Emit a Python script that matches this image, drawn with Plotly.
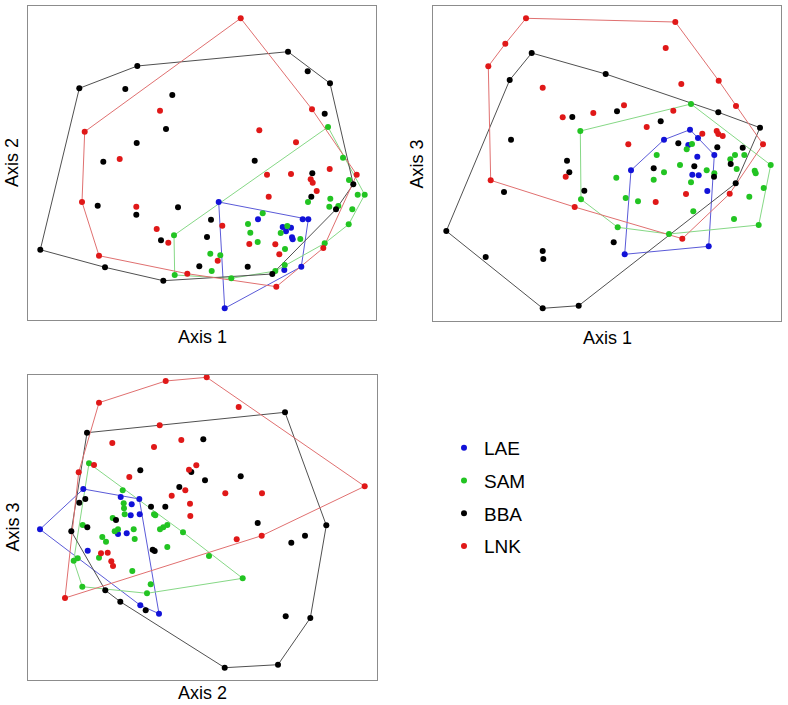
import plotly.graph_objects as go

W, H = 788, 705

groups = ["LAE", "SAM", "BBA", "LNK"]
marker_colors = {"LAE": "#1212d8", "SAM": "#22c422", "BBA": "#000000", "LNK": "#e01818"}
hull_colors = {"LAE": "#5a5ad8", "SAM": "#86d886", "BBA": "#505050", "LNK": "#e07070"}

# ---- Panel 1: Axis 1 (x) vs Axis 2 (y) ----
ax12_LAE = [(218.7, 202), (258, 219.3), (302.7, 219.3), (308.3, 219.3), (282.7, 227), (291, 227.7),
            (286, 231.3), (292, 237.3), (292.7, 239.3), (301.3, 266.7), (284.3, 270), (224.7, 308.3)]
ax12_SAM = [(328, 127), (343, 157.7), (174, 235.3), (174.7, 275), (349, 180), (357.7, 194.7),
            (364.7, 194.7), (308, 202), (330.3, 198.7), (329.3, 206.7), (338.3, 206), (352.3, 209.3),
            (262.7, 213.3), (248, 224), (348.7, 224.3), (287.3, 226), (280.7, 233), (250.3, 232.7),
            (300.3, 239), (257.7, 242), (324.7, 243.3), (285, 249), (210.3, 253.7), (220.3, 255.3),
            (211.7, 271), (284.7, 265), (275.3, 271), (231.3, 278.3)]
ax12_BBA = [(79.3, 88.3), (137.3, 66), (125.3, 89), (172.3, 95), (166, 129), (136.7, 143),
            (103.3, 161.7), (288, 51.7), (307.7, 71.3), (330, 83.3), (324.7, 113.7), (254.7, 160.7),
            (97.7, 205.7), (136.3, 214.7), (178, 207.3), (161, 240.3), (207, 237), (40.3, 249.7),
            (105, 267.3), (199.3, 266.3), (163.3, 280.7), (312.3, 173.3), (353.3, 184.3),
            (311.3, 196.7), (336, 209.3), (211, 219.7), (247.7, 266.7), (272.3, 274)]
ax12_LNK = [(160, 110.7), (84.7, 131.7), (119.7, 159), (240.7, 18.3), (312, 109.3), (259.3, 130.3),
            (296, 142.3), (82, 202), (136.3, 206.7), (156.7, 229), (168.3, 242.7), (99, 255.7),
            (187.3, 273.7), (267, 174.7), (291, 174), (329.7, 169), (356.7, 174.7), (310.7, 179.3),
            (312.7, 182.7), (316.7, 191), (268.7, 196.7), (222.3, 225.7), (249.3, 244), (275.3, 244.3),
            (323.3, 248), (279.3, 254.3), (217.7, 260.7), (276.3, 286.7)]

# ---- Panel 2: Axis 1 (x) vs Axis 3 (y) ----
ax13_LAE = [(690, 129.7), (664, 139.7), (688.3, 145), (698, 138), (697.3, 156.7), (714.3, 155),
            (631, 170.3), (692.3, 174.7), (698.7, 175.3), (707.3, 191), (708.7, 246.3), (624.7, 254.3)]
ax13_SAM = [(580.3, 131), (691, 104), (692, 144), (686.7, 149.3), (656.7, 155), (735, 155),
            (744.3, 155), (730.3, 159.3), (770.7, 165), (680, 165), (581, 199.3), (616.3, 177.7),
            (664, 172.3), (653.7, 179.7), (706.7, 170.3), (714.3, 173.3), (736.7, 169), (754.7, 170.7),
            (755.7, 173.3), (691, 182.3), (763.7, 188), (625.7, 198), (638, 201.3), (749.3, 196.7),
            (693.3, 211.3), (734, 219), (758.7, 225), (617.7, 227.3), (669, 234)]
ax13_BBA = [(531.7, 53), (509.7, 80), (605.7, 74), (572.3, 117), (511, 139.7), (567, 160.7),
            (617, 111.3), (718.3, 112.3), (660.7, 121.3), (760, 127.7), (678.3, 143.3), (717.3, 147.3),
            (742.7, 147.7), (730.7, 164), (569.3, 172.3), (504, 192), (584.3, 190.7), (446.3, 231),
            (485.7, 257), (542.7, 251), (543.3, 259), (542.7, 308.3), (578.7, 305.7), (653.7, 168.3),
            (694.3, 166.3), (714, 176.7), (735.7, 183.3), (613.7, 242.3)]
ax13_LNK = [(526, 18.3), (505.3, 43.7), (488.3, 66.3), (542.7, 87.7), (562.7, 117.3), (593.3, 113),
            (675.3, 22), (665.7, 48), (681.3, 84), (718.7, 80.7), (736, 106), (624, 105.3),
            (673.3, 110.7), (646.7, 127), (702.3, 133.7), (716.7, 131), (718.3, 134), (722.7, 136),
            (763, 144.3), (628.3, 144.3), (565.7, 176.7), (490.7, 180.3), (574.7, 207), (729.7, 193.7),
            (686, 194), (655.7, 202), (682.3, 238.7)]

# ---- Panel 3: Axis 2 (x) vs Axis 3 (y) ----
ax23_LAE = [(83.3, 489), (120.7, 497), (139.3, 499), (131.7, 504.3), (130.7, 515.3), (139.7, 514.3),
            (40, 529.3), (118, 534), (126.7, 533.3), (87.7, 550.7), (140.3, 605.3), (159, 613.7)]
ax23_SAM = [(89, 463.3), (122.7, 490.3), (123.7, 503.3), (124, 508.3), (124.7, 514.3), (154, 514.3),
            (155.3, 515.3), (112.7, 518), (82.7, 525), (167.3, 525), (163.3, 527.3), (160, 529.3),
            (183, 532.3), (118, 529.3), (114.7, 531.3), (133.7, 529.3), (102.3, 537), (106, 541.7),
            (134.7, 539), (167.3, 547), (99, 557.7), (77.7, 558.3), (73.7, 560.7), (132.3, 571),
            (150.7, 584.3), (82.3, 586.7), (147, 593.3), (209, 556), (242.7, 578.3)]
ax23_BBA = [(87, 432.7), (140.3, 470.3), (191.3, 472), (203.3, 439.3), (205, 480.3), (179.3, 487),
            (85.3, 499), (79.3, 502.7), (151, 506.7), (165.3, 506.7), (116, 520), (87.3, 527.3),
            (71.3, 531.3), (152.7, 549.7), (154.7, 551), (105.3, 590.3), (120.3, 601.7), (145.7, 610.3),
            (285, 412.3), (240.7, 476.3), (257.7, 523), (326.3, 525.3), (291.3, 542.7), (305, 535.7),
            (285.7, 616.3), (310.3, 618), (224.7, 667.7), (278, 664.7)]
ax23_LNK = [(165.7, 381), (99, 402.7), (159.7, 425.3), (112.3, 443), (154, 447), (181.3, 440),
            (94, 465), (78.7, 472.3), (129.3, 477), (189, 469.7), (196.3, 465.3), (185.3, 490.3),
            (171.7, 495.7), (190, 503.7), (190.3, 516), (101, 553.3), (107.7, 552.7), (111.3, 561.3),
            (113, 566), (65, 598), (206.7, 377.3), (238.7, 407), (225.3, 493.3), (262, 493.3),
            (364.7, 486.3), (236.7, 539.3), (261.7, 535.7)]

panels = [
    {"data": {"LAE": ax12_LAE, "SAM": ax12_SAM, "BBA": ax12_BBA, "LNK": ax12_LNK},
     "frame": (28, 376, 6, 320), "xt": "Axis 1", "yt": "Axis 2", "xgap": 17},
    {"data": {"LAE": ax13_LAE, "SAM": ax13_SAM, "BBA": ax13_BBA, "LNK": ax13_LNK},
     "frame": (433, 781, 6, 321), "xt": "Axis 1", "yt": "Axis 3", "xgap": 17},
    {"data": {"LAE": ax23_LAE, "SAM": ax23_SAM, "BBA": ax23_BBA, "LNK": ax23_LNK},
     "frame": (28, 377, 375, 680), "xt": "Axis 2", "yt": "Axis 3", "xgap": 13},
]


def convex_hull(pts):
    pts = sorted(set(pts))
    if len(pts) <= 2:
        return pts

    def cross(o, a, b):
        return (a[0] - o[0]) * (b[1] - o[1]) - (a[1] - o[1]) * (b[0] - o[0])

    lower, upper = [], []
    for p in pts:
        while len(lower) >= 2 and cross(lower[-2], lower[-1], p) <= 0:
            lower.pop()
        lower.append(p)
    for p in reversed(pts):
        while len(upper) >= 2 and cross(upper[-2], upper[-1], p) <= 0:
            upper.pop()
        upper.append(p)
    return lower[:-1] + upper[:-1]


fig = go.Figure()
FONT = "Liberation Sans, Arial, sans-serif"
annotations = []

for i, pan in enumerate(panels, start=1):
    xa = "x" if i == 1 else f"x{i}"
    ya = "y" if i == 1 else f"y{i}"
    # hull outlines
    for g in groups:
        hull = convex_hull(pan["data"][g])
        hull = hull + [hull[0]]
        fig.add_trace(go.Scatter(
            x=[p[0] for p in hull], y=[p[1] for p in hull], mode="lines",
            line=dict(color=hull_colors[g], width=1), hoverinfo="skip",
            showlegend=False, xaxis=xa, yaxis=ya))
    # points
    for g in groups:
        pts = pan["data"][g]
        fig.add_trace(go.Scatter(
            x=[p[0] for p in pts], y=[p[1] for p in pts], mode="markers",
            marker=dict(color=marker_colors[g], size=6), name=g, legendgroup=g,
            showlegend=(i == 1), cliponaxis=False, xaxis=xa, yaxis=ya))

    x0, x1, y0, y1 = pan["frame"]
    axis_common = dict(showgrid=False, zeroline=False, showticklabels=False, ticks="",
                       showline=True, mirror=True, linecolor="#8c8c8c", linewidth=1)
    fig.layout[f"xaxis{'' if i == 1 else i}"] = dict(
        domain=[x0 / W, x1 / W], range=[x0, x1], anchor=ya, **axis_common)
    fig.layout[f"yaxis{'' if i == 1 else i}"] = dict(
        domain=[1 - y1 / H, 1 - y0 / H], range=[y1, y0], anchor=xa, **axis_common)

    cx = (x0 + x1) / 2
    cy = (y0 + y1) / 2
    annotations.append(dict(text=pan["xt"], x=cx / W, y=1 - (y1 + pan["xgap"]) / H,
                            xref="paper", yref="paper",
                            showarrow=False, xanchor="center", yanchor="middle",
                            font=dict(family=FONT, size=18, color="#000")))
    annotations.append(dict(text=pan["yt"], x=(x0 - 16) / W, y=1 - cy / H, xref="paper", yref="paper",
                            showarrow=False, xanchor="center", yanchor="middle", textangle=-90,
                            font=dict(family=FONT, size=18, color="#000")))

fig.update_layout(
    width=W, height=H, margin=dict(l=0, r=0, t=0, b=0),
    paper_bgcolor="white", plot_bgcolor="white",
    annotations=annotations,
    legend=dict(x=444 / W, y=1 - 429 / H, xanchor="left", yanchor="top",
                font=dict(family=FONT, size=19, color="#000"),
                bgcolor="rgba(0,0,0,0)", tracegroupgap=5),
)

fig.write_html("out.html", config={"displayModeBar": False},
               post_script="document.body.style.margin='0px';")
